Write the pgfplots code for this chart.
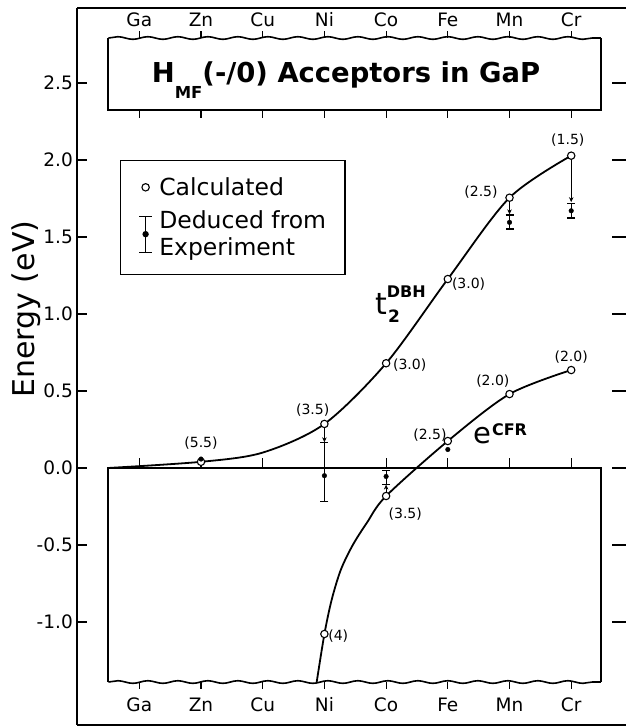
\documentclass[border=0pt]{standalone}
\usepackage{fontspec}
\setmainfont{DejaVu Sans}
\usepackage{pgfplots}
\pgfplotsset{compat=1.18}
\usetikzlibrary{decorations.pathmorphing,arrows.meta}

\newcommand{\fs}[1]{\fontsize{#1}{1.15\dimexpr #1pt\relax}\selectfont}

\begin{document}
\begin{tikzpicture}
\begin{axis}[
  scale only axis, width=549pt, height=717pt,
  xmin=-1.01, xmax=7.888, ymin=-1.669, ymax=2.987,
  axis x line*=box, axis y line*=left,
  axis line style={line width=2.5pt},
  xtick=\empty,
  ytick={-1,-0.5,0,0.5,1,1.5,2,2.5},
  /pgf/number format/assume math mode=true,
  yticklabel style={/pgf/number format/fixed, /pgf/number format/fixed zerofill,
    /pgf/number format/precision=1, inner sep=0pt, xshift=-4pt},
  tick label style={font=\fs{18.5}},
  tick align=inside, major tick length=10pt,
  tick style={line width=1.2pt, black},
  ylabel={Energy (eV)},
  ylabel style={font=\fs{30}, at={(axis description cs:-0.093,0.58)}, anchor=center},
  clip=false,
  legend cell align=left,
  legend style={at={(axis cs:-0.316,2.0)}, anchor=north west, draw=black,
    line width=1.3pt, inner xsep=18pt, inner ysep=16pt, row sep=12pt,
    font=\fs{23.5}, nodes={inner sep=1pt, align=left}},
]

% t2(DBH) curve
\addplot[smooth, line width=1.8pt, forget plot] coordinates {
  (-0.5,0.0) (1,0.04) (2,0.10) (3,0.286) (4,0.68) (5,1.227) (6,1.755) (7,2.028)};
% e(CFR) curve
\addplot[smooth, tension=0.5, line width=1.8pt, forget plot] coordinates {
  (2.875,-1.39) (3,-1.078) (3.117,-0.857) (3.265,-0.662) (3.46,-0.5) (3.69,-0.355)
  (4,-0.182) (5,0.175) (6,0.48) (7,0.636)};

% arrows from calculated to experimental values
\addplot[forget plot, quiver={u=0, v=\thisrow{v}}, -{Stealth[length=5pt,width=4.5pt]}, line width=1pt]
  table {
x y v
3 0.262 -0.095
4 -0.158 0.050
6 1.731 -0.084
7 2.004 -0.278
};

% calculated
\addplot[forget plot, only marks, mark=*, mark size=3.7pt,
  mark options={fill=white, draw=black, line width=1.1pt}] coordinates {
  (1,0.04) (3,0.286) (4,0.68) (5,1.227) (6,1.755) (7,2.028)
  (3,-1.078) (4,-0.182) (5,0.175) (6,0.48) (7,0.636)};

% deduced from experiment
\addplot[forget plot, only marks, mark=*, mark size=2.3pt, black,
  error bars/.cd, y dir=both, y explicit,
  error bar style={line width=1.1pt},
  error mark options={rotate=90, mark size=4pt, line width=1.1pt}]
  table[x=x, y=y, y error plus=ep, y error minus=em] {
x y ep em
3 -0.05 0.215 0.17
4 -0.055 0.04 0.05
6 1.595 0.048 0.043
7 1.67 0.05 0.047
};
\addplot[forget plot, only marks, mark=*, mark size=2.3pt, black] coordinates {
  (1,0.058) (5,0.12)};

\addlegendimage{legend image code/.code={
  \draw[fill=white, line width=1.1pt] (0pt,0pt) circle (3.7pt);
  \path (-6.5pt,0pt) (12pt,0pt);}}
\addlegendentry{Calculated}
\addlegendimage{legend image code/.code={
  \draw[line width=1.1pt] (0pt,-18pt) -- (0pt,18pt);
  \draw[line width=1.1pt] (-6.5pt,18pt) -- (6.5pt,18pt);
  \draw[line width=1.1pt] (-6.5pt,-18pt) -- (6.5pt,-18pt);
  \fill (0pt,0pt) circle (2.5pt);
  \path (-6.5pt,0pt) (12pt,0pt);}}
\addlegendentry{Deduced from\\Experiment}

% title box
\draw[line width=1.6pt, decorate, decoration={snake, amplitude=1.3pt, segment length=30pt}]
  (axis cs:-0.5,2.792) -- (axis cs:7.48,2.792);
\draw[line width=2pt] (axis cs:-0.5,2.792) -- (axis cs:-0.5,2.325)
  -- (axis cs:7.48,2.325) -- (axis cs:7.48,2.792);
\node[anchor=base west, inner sep=0pt, font=\bfseries\fs{27.4}] at (axis cs:0.2,2.506)
  {H\raisebox{-16pt}{\fs{16.5}MF}(-/0) Acceptors in GaP};

% lower box
\draw[line width=2pt] (axis cs:-0.5,-1.39) -- (axis cs:-0.5,0) -- (axis cs:7.48,0)
  -- (axis cs:7.48,-1.39);
\draw[line width=1.6pt, decorate, decoration={snake, amplitude=1.3pt, segment length=30pt}]
  (axis cs:-0.5,-1.39) -- (axis cs:7.48,-1.39);

\pgfplotsinvokeforeach{0,...,7}{
  \draw[line width=1.1pt] (axis cs:#1,2.792) -- ++(0pt,7pt);
  \draw[line width=1.1pt] (axis cs:#1,2.325) -- ++(0pt,-8pt);
  \draw[line width=1.1pt] (axis cs:#1,0) -- ++(0pt,10pt);
  \draw[line width=1.1pt] (axis cs:#1,-1.39) -- ++(0pt,-7pt);
}
\foreach \i/\n in {0/Ga,1/Zn,2/Cu,3/Ni,4/Co,5/Fe,6/Mn,7/Cr}{
  \edef\temp{\noexpand\node[anchor=base, font=\noexpand\fs{18.5}] at (axis cs:\i,2.864) {\n};
    \noexpand\node[anchor=base, font=\noexpand\fs{18.5}] at (axis cs:\i,-1.584) {\n};}
  \temp
}

% value labels
\begin{scope}[every node/.style={font=\fs{14}, inner sep=0pt}]
\node at (axis cs:1.0,0.16) {(5.5)};
\node at (axis cs:2.81,0.377) {(3.5)};
\node[anchor=west] at (axis cs:4.11,0.665) {(3.0)};
\node[anchor=west] at (axis cs:5.065,1.195) {(3.0)};
\node[anchor=east] at (axis cs:5.81,1.794) {(2.5)};
\node at (axis cs:6.945,2.13) {(1.5)};
\node at (axis cs:7.0,0.723) {(2.0)};
\node at (axis cs:5.73,0.567) {(2.0)};
\node at (axis cs:4.71,0.214) {(2.5)};
\node at (axis cs:4.31,-0.30) {(3.5)};
\node[anchor=west] at (axis cs:3.06,-1.09) {(4)};
\end{scope}

% curve names
\node[anchor=base west, inner sep=0pt, font=\fs{30}] at (axis cs:3.817,0.994) {t};
\node[anchor=base west, inner sep=0pt, font=\bfseries\fs{17}] at (axis cs:4.03,0.942) {2};
\node[anchor=base west, inner sep=0pt, font=\bfseries\fs{16}] at (axis cs:4.01,1.104) {DBH};
\node[anchor=base west, inner sep=0pt, font=\fs{29}] at (axis cs:5.405,0.162) {e};
\node[anchor=base west, inner sep=0pt, font=\bfseries\fs{16}] at (axis cs:5.713,0.214) {CFR};
\end{axis}
% right-hand ticks of the frame (frame edge lies at the page edge)
\foreach \v in {-1,-0.5,0,0.5,1,1.5,2,2.5}
  \draw[line width=1.3pt, black] (535pt,{(\v+1.669)*154pt}) -- (549pt,{(\v+1.669)*154pt});
\pgfresetboundingbox
\useasboundingbox (-77pt,-2pt) rectangle (549pt,725pt);
\end{tikzpicture}
\end{document}
